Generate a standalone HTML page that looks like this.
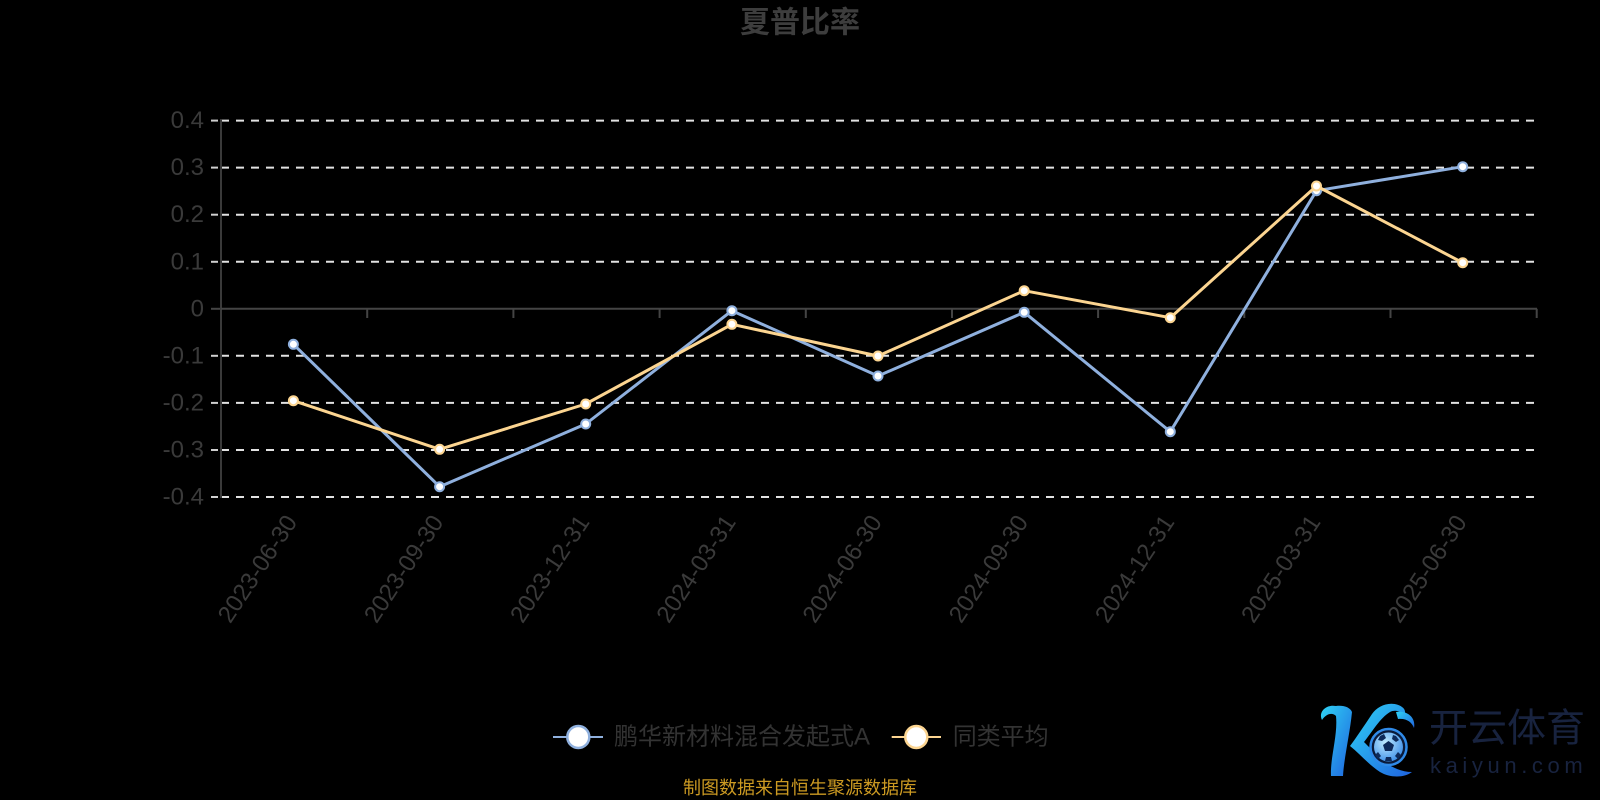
<!DOCTYPE html>
<html>
<head>
<meta charset="utf-8">
<style>
  html, body { margin:0; padding:0; background:#000; }
  body { width:1600px; height:800px; overflow:hidden; }
  svg { display:block; }
  .lat { font-family:"Liberation Sans","Noto Sans CJK SC",sans-serif; }
  .cjk { font-family:"Liberation Sans","Noto Sans CJK SC",sans-serif; }
</style>
</head>
<body>
<svg width="1600" height="800" viewBox="0 0 1600 800" xmlns="http://www.w3.org/2000/svg">
  <defs>
    <linearGradient id="kg" x1="0" y1="0" x2="1" y2="1">
      <stop offset="0" stop-color="#2fd3f5"/>
      <stop offset="1" stop-color="#1f63df"/>
    </linearGradient>
    <radialGradient id="ballg" cx="0.4" cy="0.35" r="0.7">
      <stop offset="0" stop-color="#bfeaff"/>
      <stop offset="1" stop-color="#3d8fe8"/>
    </radialGradient>
  </defs>
  <rect width="1600" height="800" fill="#000"/>

  <!-- Title -->
  <text x="800" y="23" text-anchor="middle" dominant-baseline="central" class="cjk" font-size="30" font-weight="bold" fill="#3d3d3d">夏普比率</text>

  <!-- Grid lines (dashed) -->
  <g stroke="#e2e2e2" stroke-width="2" stroke-dasharray="8 7">
    <line x1="221" y1="120.6" x2="1537" y2="120.6"/>
    <line x1="221" y1="167.6" x2="1537" y2="167.6"/>
    <line x1="221" y1="214.7" x2="1537" y2="214.7"/>
    <line x1="221" y1="261.8" x2="1537" y2="261.8"/>
    <line x1="221" y1="355.8" x2="1537" y2="355.8"/>
    <line x1="221" y1="402.9" x2="1537" y2="402.9"/>
    <line x1="221" y1="450.0" x2="1537" y2="450.0"/>
    <line x1="221" y1="497.0" x2="1537" y2="497.0"/>
  </g>
  <!-- y ticks -->
  <g stroke="#cfcfcf" stroke-width="2">
    <line x1="211" y1="120.6" x2="218" y2="120.6"/>
    <line x1="211" y1="167.6" x2="218" y2="167.6"/>
    <line x1="211" y1="214.7" x2="218" y2="214.7"/>
    <line x1="211" y1="261.8" x2="218" y2="261.8"/>
    <line x1="211" y1="355.8" x2="218" y2="355.8"/>
    <line x1="211" y1="402.9" x2="218" y2="402.9"/>
    <line x1="211" y1="450.0" x2="218" y2="450.0"/>
    <line x1="211" y1="497.0" x2="218" y2="497.0"/>
  </g>
  <line x1="211" y1="308.8" x2="221" y2="308.8" stroke="#444" stroke-width="2"/>

  <!-- Y axis line -->
  <line x1="221" y1="119" x2="221" y2="498" stroke="#3a3a3a" stroke-width="2"/>
  <!-- X axis line at zero -->
  <line x1="221" y1="308.8" x2="1537" y2="308.8" stroke="#444" stroke-width="2"/>
  <g stroke="#444" stroke-width="2">
    <line x1="367.2" y1="308.8" x2="367.2" y2="318"/>
    <line x1="513.4" y1="308.8" x2="513.4" y2="318"/>
    <line x1="659.6" y1="308.8" x2="659.6" y2="318"/>
    <line x1="805.8" y1="308.8" x2="805.8" y2="318"/>
    <line x1="952.0" y1="308.8" x2="952.0" y2="318"/>
    <line x1="1098.1" y1="308.8" x2="1098.1" y2="318"/>
    <line x1="1244.3" y1="308.8" x2="1244.3" y2="318"/>
    <line x1="1390.5" y1="308.8" x2="1390.5" y2="318"/>
    <line x1="1536.7" y1="308.8" x2="1536.7" y2="318"/>
  </g>

  <!-- Y labels -->
  <g class="lat" font-size="24" fill="#3a3a3a" text-anchor="end" dominant-baseline="central">
    <text x="204" y="120.6">0.4</text>
    <text x="204" y="167.6">0.3</text>
    <text x="204" y="214.7">0.2</text>
    <text x="204" y="261.8">0.1</text>
    <text x="204" y="308.8">0</text>
    <text x="204" y="355.8">-0.1</text>
    <text x="204" y="402.9">-0.2</text>
    <text x="204" y="450.0">-0.3</text>
    <text x="204" y="497.0">-0.4</text>
  </g>

  <!-- X labels (rotated) -->
  <g class="lat" font-size="24" fill="#3a3a3a" text-anchor="end">
    <text transform="translate(298,522) rotate(-56.5)">2023-06-30</text>
    <text transform="translate(444.2,522) rotate(-56.5)">2023-09-30</text>
    <text transform="translate(590.4,522) rotate(-56.5)">2023-12-31</text>
    <text transform="translate(736.6,522) rotate(-56.5)">2024-03-31</text>
    <text transform="translate(882.8,522) rotate(-56.5)">2024-06-30</text>
    <text transform="translate(1029.0,522) rotate(-56.5)">2024-09-30</text>
    <text transform="translate(1175.2,522) rotate(-56.5)">2024-12-31</text>
    <text transform="translate(1321.4,522) rotate(-56.5)">2025-03-31</text>
    <text transform="translate(1467.6,522) rotate(-56.5)">2025-06-30</text>
  </g>

  <!-- Blue series -->
  <polyline fill="none" stroke="#8fb0de" stroke-width="3" stroke-linejoin="round"
    points="293.4,344.3 439.6,486.7 585.7,424 731.9,310.7 878.0,376 1024.2,312.3 1170.3,431.7 1316.5,190.7 1462.7,166.7"/>
  <g fill="#fff" stroke="#8fb0de" stroke-width="2">
    <circle cx="293.4" cy="344.3" r="4.5"/>
    <circle cx="439.6" cy="486.7" r="4.5"/>
    <circle cx="585.7" cy="424" r="4.5"/>
    <circle cx="731.9" cy="310.7" r="4.5"/>
    <circle cx="878.0" cy="376" r="4.5"/>
    <circle cx="1024.2" cy="312.3" r="4.5"/>
    <circle cx="1170.3" cy="431.7" r="4.5"/>
    <circle cx="1316.5" cy="190.7" r="4.5"/>
    <circle cx="1462.7" cy="166.7" r="4.5"/>
  </g>

  <!-- Orange series -->
  <polyline fill="none" stroke="#fcd591" stroke-width="3" stroke-linejoin="round"
    points="293.4,400.7 439.6,449.3 585.7,404 731.9,324.3 878.0,356 1024.2,290.7 1170.3,317.7 1316.5,186 1462.7,262.7"/>
  <g fill="#fff" stroke="#fcd591" stroke-width="2">
    <circle cx="293.4" cy="400.7" r="4.5"/>
    <circle cx="439.6" cy="449.3" r="4.5"/>
    <circle cx="585.7" cy="404" r="4.5"/>
    <circle cx="731.9" cy="324.3" r="4.5"/>
    <circle cx="878.0" cy="356" r="4.5"/>
    <circle cx="1024.2" cy="290.7" r="4.5"/>
    <circle cx="1170.3" cy="317.7" r="4.5"/>
    <circle cx="1316.5" cy="186" r="4.5"/>
    <circle cx="1462.7" cy="262.7" r="4.5"/>
  </g>

  <!-- Legend -->
  <line x1="553" y1="737" x2="603" y2="737" stroke="#8fb0de" stroke-width="2"/>
  <circle cx="578.3" cy="737" r="11" fill="#fff" stroke="#8fb0de" stroke-width="2.5"/>
  <text x="614" y="737" dominant-baseline="central" class="cjk" font-size="24" fill="#333">鹏华新材料混合发起式A</text>

  <line x1="891.7" y1="737" x2="941" y2="737" stroke="#fcd591" stroke-width="2"/>
  <circle cx="916.3" cy="737" r="11" fill="#fff" stroke="#fcd591" stroke-width="2.5"/>
  <text x="952.7" y="737" dominant-baseline="central" class="cjk" font-size="24" fill="#333">同类平均</text>

  <!-- Footer -->
  <text x="800" y="788" text-anchor="middle" dominant-baseline="central" class="cjk" font-size="18" fill="#cc9a22">制图数据来自恒生聚源数据库</text>

  <!-- Logo -->
  <g>
    <path d="M1336,706 C1326,704 1318,712 1322,720 C1326,714 1332,712 1336,716 C1338,735 1330,758 1331,776 L1343,776 C1344,758 1350,733 1352,712 C1350,707 1343,705 1336,706 Z" fill="url(#kg)"/>
    <path d="M1402,707 C1392,700 1378,705 1372,714 C1364,726 1356,738 1350,746 C1360,754 1368,764 1380,772 C1390,778 1404,778 1412,772 C1400,772 1388,766 1378,756 C1370,748 1366,744 1364,742 C1372,732 1380,718 1390,712 C1396,709 1402,712 1404,716 C1406,712 1405,709 1402,707 Z" fill="url(#kg)"/>
    <path d="M1396,712 C1408,710 1416,718 1414,728 C1412,722 1406,718 1398,719 Z" fill="url(#kg)"/>
    <circle cx="1388.5" cy="747" r="18" fill="#0a1a3a" stroke="#2f8ae8" stroke-width="2.5"/>
    <circle cx="1388.5" cy="747" r="14.5" fill="url(#ballg)"/>
    <polygon points="1388.5,741 1394,745 1392,751 1385,751 1383,745" fill="#0d2a5a"/>
    <polygon points="1380,736 1384,734 1386,738 1382,741 1378,740" fill="#0d2a5a"/>
    <polygon points="1396,736 1399,740 1396,742 1392,739 1393,735" fill="#0d2a5a"/>
    <polygon points="1378,752 1381,756 1378,759 1375,755" fill="#0d2a5a"/>
    <polygon points="1398,752 1401,755 1398,759 1395,756" fill="#0d2a5a"/>
    <polygon points="1386,757 1391,757 1392,761 1385,761" fill="#0d2a5a"/>
    <text x="1429" y="729" dominant-baseline="central" class="cjk" font-size="39" fill="#18233f">开云体育</text>
    <text x="1430" y="773" class="lat" font-size="22" letter-spacing="4.6" fill="#18233f">kaiyun.com</text>
  </g>
</svg>
</body>
</html>
